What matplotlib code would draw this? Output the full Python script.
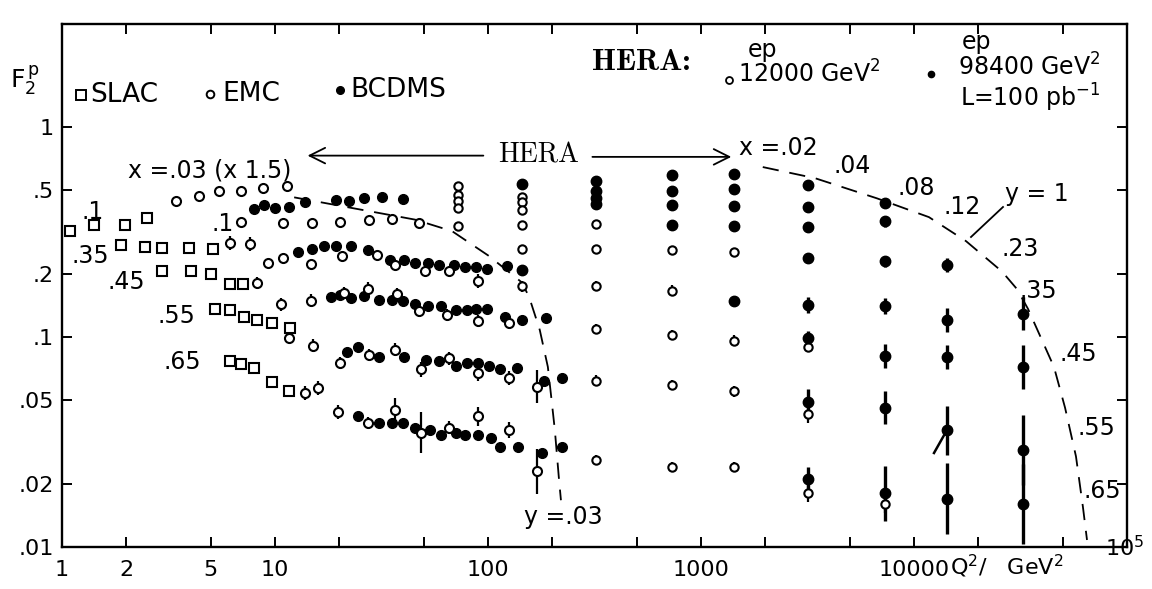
import numpy as np
import matplotlib.pyplot as plt
from matplotlib.lines import Line2D
from matplotlib.ticker import NullLocator

plt.rcParams['font.family'] = ['Liberation Sans Narrow', 'DejaVu Sans']
plt.rcParams['mathtext.fontset'] = 'dejavusans'

W, H = 1152, 589

# ---- SLAC, open squares (one list per x bin) ----
slac_q2_010 = [1.09, 1.41, 1.98, 2.51]
slac_f2_010 = [0.319, 0.343, 0.341, 0.370]
slac_q2_035 = [1.89, 2.45, 2.95, 3.95, 5.12]
slac_f2_035 = [0.274, 0.267, 0.266, 0.264, 0.263]
slac_q2_045 = [2.95, 4.03, 5.01, 6.15, 7.08]
slac_f2_045 = [0.206, 0.205, 0.200, 0.178, 0.178]
slac_q2_055 = [5.23, 6.15, 7.15, 8.23, 9.68, 11.8]
slac_f2_055 = [0.136, 0.134, 0.124, 0.121, 0.117, 0.110]
slac_q2_065 = [6.15, 6.92, 7.97, 9.68, 11.6]
slac_f2_065 = [0.077, 0.074, 0.071, 0.061, 0.055]

# ---- EMC, open circles (e = relative error, 0 = no bar) ----
emc_q2_003 = [3.43, 4.40, 5.46, 6.92, 8.79, 11.4]
emc_f2_003 = [0.443, 0.471, 0.496, 0.493, 0.513, 0.523]
emc_q2_010 = [6.92, 10.9, 14.9, 20.2, 27.6, 35.4, 47.4]
emc_f2_010 = [0.351, 0.348, 0.347, 0.352, 0.362, 0.365, 0.350]
emc_q2_035 = [6.15, 7.63, 9.27, 10.9, 14.8, 20.6, 30.1, 36.6, 50.6, 65.6, 89.8]
emc_f2_035 = [0.280, 0.276, 0.225, 0.237, 0.223, 0.242, 0.246, 0.219, 0.207, 0.205, 0.185]
emc_e_035 = [.08, .08, 0, 0, 0, 0, 0, 0, 0, 0, .08]
emc_q2_045 = [8.23, 10.7, 14.8, 21.1, 27.3, 37.4, 47.4, 64.2, 89.8, 126]
emc_f2_045 = [0.181, 0.143, 0.149, 0.162, 0.170, 0.160, 0.133, 0.127, 0.119, 0.117]
emc_e_045 = [.07, .07, .07, .07, .07, .07, .07, .07, .07, .07]
emc_q2_055 = [11.6, 15.1, 20.2, 27.6, 36.6, 48.4, 65.6, 89.8, 126, 170]
emc_f2_055 = [0.099, 0.091, 0.075, 0.082, 0.087, 0.070, 0.079, 0.067, 0.064, 0.058]
emc_e_055 = [0, .07, .07, .07, .07, .09, .07, .08, .08, .2]
emc_q2_065 = [13.8, 15.9, 19.8, 27.3, 36.6, 48.4, 65.6, 89.8, 126, 170]
emc_f2_065 = [0.054, 0.057, 0.044, 0.039, 0.045, 0.035, 0.037, 0.042, 0.036, 0.023]
emc_e_065 = [.08, .08, .08, .07, .14, .25, .07, .11, .09, .28]

# ---- BCDMS, filled circles ----
bcd_q2_top = [7.97, 8.88, 10.0, 11.6, 13.8, 19.3, 22.2, 26.2, 31.8, 39.9]
bcd_f2_top = [0.405, 0.426, 0.411, 0.415, 0.437, 0.448, 0.442, 0.460, 0.464, 0.452]
bcd_q2_035 = [12.8, 14.9, 17.0, 19.3, 22.7, 27.3, 34.7, 40.3, 45.4, 52.3, 58.9, 69.2, 78.0, 87.9, 98.9, 123]
bcd_f2_035 = [0.253, 0.263, 0.272, 0.271, 0.270, 0.260, 0.232, 0.232, 0.226, 0.225, 0.220, 0.219, 0.216, 0.216, 0.211, 0.217]
bcd_q2_045 = [18.3, 20.2, 22.7, 26.2, 30.8, 35.4, 39.9, 45.4, 52.3, 60.2, 70.7, 79.7, 87.9, 98.9, 120, 144, 187]
bcd_f2_045 = [0.155, 0.158, 0.153, 0.156, 0.150, 0.150, 0.149, 0.143, 0.141, 0.140, 0.134, 0.134, 0.136, 0.136, 0.125, 0.121, 0.123]
bcd_q2_055 = [21.8, 24.5, 30.8, 40.3, 51.2, 58.9, 70.7, 79.7, 89.8, 101, 114, 137, 183, 222]
bcd_f2_055 = [0.085, 0.090, 0.080, 0.080, 0.078, 0.077, 0.073, 0.075, 0.075, 0.073, 0.070, 0.071, 0.062, 0.064]
bcd_q2_065 = [24.5, 30.8, 35.4, 39.9, 45.4, 53.4, 60.2, 70.7, 78.0, 89.8, 103, 114, 138, 179, 222]
bcd_f2_065 = [0.042, 0.039, 0.039, 0.039, 0.037, 0.036, 0.034, 0.035, 0.034, 0.034, 0.033, 0.030, 0.030, 0.028, 0.030]

# ---- HERA simulated columns ----
hera_q2 = [72, 144, 320, 730, 1430, 3180, 7310, 14300, 32500]
# s = 12000 GeV^2 (open)
h12_f2 = [[0.521, 0.472, 0.442, 0.410, 0.336],
          [0.466, 0.437, 0.404, 0.343, 0.261, 0.174],
          [0.345, 0.262, 0.175, 0.109, 0.062, 0.026],
          [0.258, 0.166, 0.102, 0.059, 0.024],
          [0.255, 0.096, 0.055, 0.024],
          [0.090, 0.043, 0.018],
          [0.016], [], []]
h12_e = [[0, 0, 0, 0, 0],
         [0, 0, 0, 0, 0, .06],
         [0, 0, .06, .06, .06, .06],
         [0, .06, .06, .06, .06],
         [0, .06, .06, .06],
         [.06, .1, .1],
         [.1], [], []]
# s = 98400 GeV^2 (filled)
h98_f2 = [[],
          [0.532, 0.209],
          [0.553, 0.496, 0.459, 0.430],
          [0.588, 0.498, 0.423, 0.343],
          [0.600, 0.509, 0.418, 0.339, 0.149],
          [0.530, 0.416, 0.334, 0.238, 0.142, 0.099, 0.049, 0.021],
          [0.432, 0.355, 0.229, 0.140, 0.081, 0.046, 0.018],
          [0.221, 0.120, 0.080, 0.036, 0.017],
          [0.129, 0.072, 0.029, 0.016]]
h98_e = [[],
         [0, 0],
         [0, 0, 0, 0],
         [0, 0, 0, 0],
         [0, 0, 0, 0, .05],
         [0, .06, .06, .05, .09, .08, .15, .15],
         [0, .06, .06, .09, .14, .2, .35],
         [.08, .14, .14, .31, .47],
         [.2, .27, .47, .55]]

# ---- kinematic limits (dashed) ----
y003_q2 = [12.3, 45.4, 67.8, 101, 144, 156, 175, 191, 198, 206, 215, 220]
y003_f2 = [0.462, 0.362, 0.319, 0.243, 0.182, 0.155, 0.108, 0.072, 0.052, 0.036, 0.0215, 0.0167]
y1_q2 = [1950, 3430, 6700, 11750, 17540, 25880, 30450, 34300, 45400, 51200, 57600, 62100, 64900]
y1_f2 = [0.644, 0.570, 0.457, 0.372, 0.286, 0.205, 0.169, 0.136, 0.072, 0.046, 0.027, 0.0155, 0.0108]


def P(x, y):
    # pixel position in the 1152x589 picture -> figure fraction
    return x / W, 1 - y / H


def bars(f, e):
    f = np.asarray(f, float)
    e = np.asarray(e, float)
    return np.vstack([f - f / (1 + e), f * e])


fig = plt.figure(figsize=(W / 100, H / 100), dpi=100)
ax = fig.add_axes([62 / W, 1 - 547 / H, 1065 / W, 523 / H])
ax.set_xscale('log')
ax.set_yscale('log')
ax.set_xlim(1, 1e5)
ax.set_ylim(0.01, 3.09)

sq = dict(ls='none', marker='s', mfc='white', mec='black', mew=1.5, ms=7.5)
for q, f in [(slac_q2_010, slac_f2_010), (slac_q2_035, slac_f2_035), (slac_q2_045, slac_f2_045),
             (slac_q2_055, slac_f2_055), (slac_q2_065, slac_f2_065)]:
    ax.plot(q, f, **sq)

op = dict(fmt='o', mfc='white', mec='black', mew=1.5, ms=6.5, ecolor='black', elinewidth=1.6, capsize=0)
ax.plot(emc_q2_003, emc_f2_003, ls='none', marker='o', mfc='white', mec='black', mew=1.5, ms=6.5)
ax.plot(emc_q2_010, emc_f2_010, ls='none', marker='o', mfc='white', mec='black', mew=1.5, ms=6.5)
for q, f, e in [(emc_q2_035, emc_f2_035, emc_e_035), (emc_q2_045, emc_f2_045, emc_e_045),
                (emc_q2_055, emc_f2_055, emc_e_055), (emc_q2_065, emc_f2_065, emc_e_065)]:
    ax.errorbar(q, f, yerr=bars(f, e), **op)

for q, f in [(bcd_q2_top, bcd_f2_top), (bcd_q2_035, bcd_f2_035), (bcd_q2_045, bcd_f2_045),
             (bcd_q2_055, bcd_f2_055), (bcd_q2_065, bcd_f2_065)]:
    ax.plot(q, f, ls='none', marker='o', color='black', ms=7)

for q, f, e in zip(hera_q2, h12_f2, h12_e):
    if f:
        ax.errorbar([q] * len(f), f, yerr=bars(f, e), fmt='o', mfc='white', mec='black',
                    mew=1.5, ms=6, ecolor='black', elinewidth=1.6, capsize=0)
for q, f, e in zip(hera_q2, h98_f2, h98_e):
    if f:
        ax.errorbar([q] * len(f), f, yerr=bars(f, e), fmt='o', color='black',
                    ms=7.5, ecolor='black', elinewidth=2.4, capsize=0)

ax.plot(y003_q2, y003_f2, color='black', lw=1.3, ls=(0, (9, 6)))
ax.plot(y1_q2, y1_f2, color='black', lw=1.3, ls=(0, (9, 6)))

# HERA arrow
ax.annotate('', xy=(13.8, 0.73), xytext=(98, 0.73),
            arrowprops=dict(arrowstyle='->', lw=1.3, color='black', mutation_scale=28))
ax.annotate('', xy=(1430, 0.72), xytext=(300, 0.72),
            arrowprops=dict(arrowstyle='->', lw=1.3, color='black', mutation_scale=28))
ax.text(172, 0.73, 'HERA', family='cmr10', fontsize=20, ha='center', va='center')

# axes, ticks
for s in ax.spines.values():
    s.set_linewidth(1.7)
ax.set_xticks([1, 2, 5, 10, 20, 50, 100, 200, 500, 1000, 2000, 5000, 1e4, 2e4, 5e4, 1e5])
ax.set_xticklabels(['1', '2', '5', '10', '', '', '100', '', '', '1000', '', '', '10000', '', '', ''])
ax.set_yticks([0.01, 0.02, 0.05, 0.1, 0.2, 0.5, 1])
ax.set_yticklabels(['.01', '.02', '.05', '.1', '.2', '.5', '1'])
ax.xaxis.set_minor_locator(NullLocator())
ax.yaxis.set_minor_locator(NullLocator())
ax.tick_params(direction='in', top=True, right=True, length=7, width=1.4, labelsize=16)
ax.tick_params(axis='x', pad=9)
ax.tick_params(axis='y', pad=6)

fs = 17
fig.text(*P(1105, 548), '10$^5$', fontsize=16, va='center')
fig.text(*P(950, 566), 'Q$^2$/   GeV$^2$', fontsize=16, va='center')
fig.text(*P(10, 80), r'F$_2^{\,\mathrm{p}}$', fontsize=18, va='center')

# legend
fig.add_artist(Line2D([81 / W], [1 - 95 / H], marker='s', mfc='white', mec='black', mew=1.4, ms=7))
fig.text(*P(90, 95), 'SLAC', fontsize=19, va='center')
fig.add_artist(Line2D([210 / W], [1 - 94 / H], marker='o', mfc='white', mec='black', mew=1.4, ms=5.5))
fig.text(*P(222, 94), 'EMC', fontsize=19, va='center')
fig.add_artist(Line2D([340 / W], [1 - 90 / H], marker='o', color='black', ms=5.5))
fig.text(*P(350, 90), 'BCDMS', fontsize=19, va='center')

fig.text(*P(592, 63), 'HERA:', family='cmb10', fontsize=22, va='center')
fig.text(*P(748, 50), 'ep', fontsize=17, va='center')
fig.add_artist(Line2D([729 / W], [1 - 80 / H], marker='o', mfc='white', mec='black', mew=1.3, ms=5))
fig.text(*P(738, 74), '12000 GeV$^2$', fontsize=17, va='center')
fig.text(*P(962, 42), 'ep', fontsize=17, va='center')
fig.add_artist(Line2D([931 / W], [1 - 74 / H], marker='o', color='black', ms=4.5))
fig.text(*P(958, 67), '98400 GeV$^2$', fontsize=17, va='center')
fig.text(*P(960, 98), 'L=100 pb$^{-1}$', fontsize=17, va='center')

# x-bin labels, left side
fig.text(*P(128, 170), 'x =.03 (x 1.5)', fontsize=fs, va='center')
fig.text(*P(82, 212), '.1', fontsize=fs, va='center')
fig.text(*P(72, 256), '.35', fontsize=fs, va='center')
fig.text(*P(108, 282), '.45', fontsize=fs, va='center')
fig.text(*P(158, 316), '.55', fontsize=fs, va='center')
fig.text(*P(164, 362), '.65', fontsize=fs, va='center')
fig.text(*P(211, 224), '.1', fontsize=fs, va='center')
fig.text(*P(524, 517), 'y =.03', fontsize=fs, va='center')

# x-bin labels along the y=1 line
for x, y, s in [(739, 148, 'x =.02'), (834, 166, '.04'), (897, 188, '.08'), (944, 207, '.12'),
                (1005, 194, 'y = 1'), (1002, 249, '.23'), (1020, 291, '.35'), (1060, 354, '.45'),
                (1078, 428, '.55'), (1083, 491, '.65')]:
    fig.text(*P(x, y), s, fontsize=fs, va='center')

fig.add_artist(Line2D([971 / W, 1003 / W], [1 - 237 / H, 1 - 207 / H], color='black', lw=1.3))
fig.add_artist(Line2D([934 / W, 947 / W], [1 - 453 / H, 1 - 430 / H], color='black', lw=1.8))

fig.savefig('out.png', dpi=100)
